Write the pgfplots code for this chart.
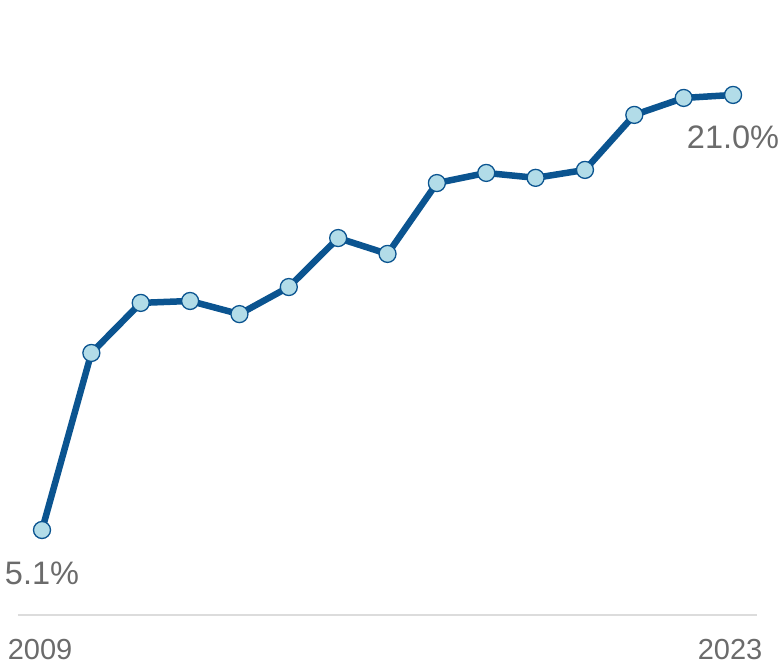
\documentclass[border=0pt]{standalone}
\usepackage{pgfplots}
\pgfplotsset{compat=1.18}
\usepackage{fontspec}
\setmainfont{Liberation Sans}
\definecolor{lineblue}{HTML}{0B5490}
\definecolor{markfill}{HTML}{B2DCE8}
\definecolor{txtgray}{HTML}{6B6B6B}
\definecolor{basegray}{HTML}{DCDCDC}
\begin{document}
\begin{tikzpicture}[x=1pt,y=1pt]
\useasboundingbox (0,0) rectangle (783,669);
\begin{axis}[
  at={(0,0)}, anchor=south west,
  scale only axis, width=783pt, height=669pt,
  xmin=2008.149, xmax=2024.012,
  ymin=0.02, ymax=24.47,
  axis lines=none, ticks=none,
  clip=false,
]
\addplot[basegray, line width=1.5pt] coordinates {(2008.51,2.0) (2023.49,2.0)};
\addplot[lineblue, line width=6.5pt, line join=round,
  mark=*, mark size=8.5pt,
  mark options={fill=markfill, draw=lineblue, line width=1.3pt}]
coordinates {
(2009,5.1) (2010,11.57) (2011,13.4) (2012,13.47) (2013,12.99)
(2014,13.98) (2015,15.77) (2016,15.19) (2017,17.78) (2018,18.15)
(2019,17.97) (2020,18.26) (2021,20.27) (2022,20.89) (2023,21.0)
};
\node[txtgray, inner sep=0pt, font=\fontsize{32.5}{36}\selectfont] at (axis cs:2009,3.53) {5.1\%};
\node[txtgray, inner sep=0pt, font=\fontsize{32.5}{36}\selectfont] at (axis cs:2023,19.46) {21.0\%};
\node[txtgray, inner sep=0pt, font=\fontsize{29}{32}\selectfont] at (axis cs:2008.96,0.72) {2009};
\node[txtgray, inner sep=0pt, font=\fontsize{29}{32}\selectfont] at (axis cs:2022.94,0.72) {2023};
\end{axis}
\end{tikzpicture}
\end{document}
